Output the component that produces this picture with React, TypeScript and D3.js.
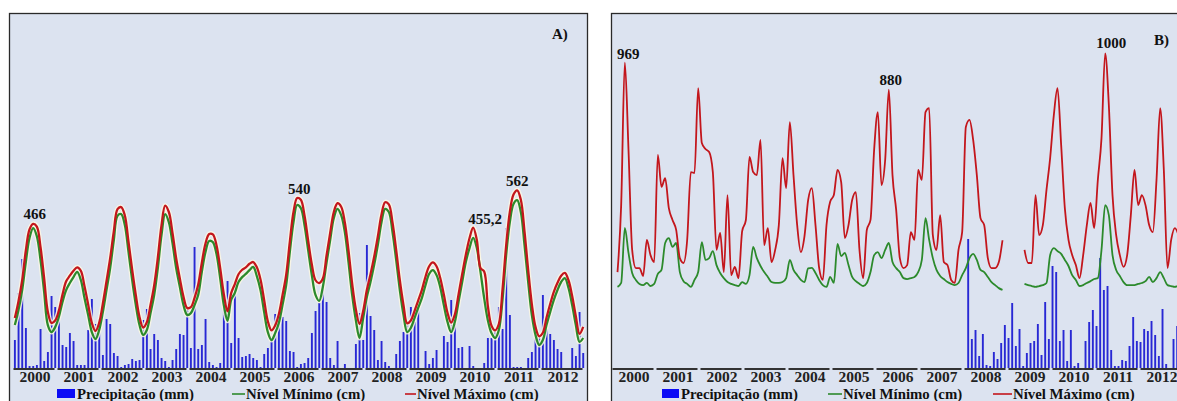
import React, { useEffect, useRef } from 'react';
import * as d3 from 'd3';

const anos = ['2000', '2001', '2002', '2003', '2004', '2005', '2006', '2007', '2008', '2009', '2010', '2011', '2012'];

// Painel A - valores mensais jan/2000 a dez/2012
const precipitacaoA = [
  112, 300, 436, 160, 8, 8, 12, 156, 28, 64, 288, 244,
  208, 92, 84, 140, 108, 12, 12, 12, 152, 276, 176, 196,
  52, 196, 176, 60, 48, 4, 12, 16, 36, 28, 32, 192,
  236, 76, 136, 112, 40, 28, 4, 32, 76, 136, 132, 244,
  80, 484, 76, 92, 196, 24, 12, 4, 20, 244, 348, 100,
  344, 120, 44, 48, 56, 40, 32, 4, 56, 80, 120, 216,
  208, 204, 188, 68, 64, 4, 16, 20, 40, 140, 228, 260,
  336, 264, 40, 12, 108, 0, 16, 0, 0, 96, 220, 112,
  492, 208, 152, 32, 108, 24, 8, 0, 56, 108, 144, 176,
  244, 184, 240, 0, 68, 16, 40, 72, 0, 128, 104, 272,
  176, 80, 84, 0, 88, 8, 0, 0, 20, 120, 120, 156,
  244, 156, 560, 212, 4, 4, 4, 0, 40, 64, 120, 132,
  292, 156, 136, 112, 76, 64, 0, 0, 80, 48, 224, 60,
];

const nivelMinimoA = [
  177, 220, 277, 357, 426, 454, 431, 363, 271, 177, 157, 171,
  200, 243, 277, 297, 314, 329, 306, 254, 206, 157, 137, 163,
  214, 277, 340, 420, 489, 494, 463, 386, 306, 234, 177, 149,
  163, 211, 263, 340, 434, 494, 471, 411, 340, 286, 234, 206,
  211, 234, 263, 329, 386, 417, 414, 380, 311, 234, 189, 249,
  269, 300, 314, 323, 334, 343, 317, 277, 214, 157, 134, 154,
  183, 234, 291, 386, 471, 520, 511, 463, 391, 320, 263, 246,
  286, 354, 420, 483, 509, 491, 443, 357, 263, 191, 140, 197,
  257, 300, 349, 406, 471, 509, 500, 443, 363, 277, 206, 157,
  169, 197, 226, 254, 291, 323, 334, 320, 286, 234, 186, 157,
  186, 243, 300, 357, 397, 426, 397, 329, 254, 191, 154, 140,
  163, 249, 377, 471, 523, 534, 500, 406, 300, 206, 149, 120,
  134, 177, 214, 249, 277, 300, 311, 283, 234, 177, 129, 140,
];

const nivelMaximoA = [
  197, 245, 305, 390, 450, 466, 458, 400, 310, 215, 183, 190,
  218, 264, 302, 318, 332, 342, 332, 288, 236, 183, 160, 183,
  238, 302, 368, 445, 508, 514, 490, 415, 335, 262, 200, 170,
  185, 234, 290, 370, 462, 518, 500, 440, 368, 310, 258, 226,
  228, 254, 292, 355, 410, 437, 436, 405, 340, 265, 216, 268,
  294, 322, 335, 342, 352, 357, 342, 307, 248, 188, 162, 176,
  208, 262, 320, 415, 500, 540, 535, 490, 418, 350, 305, 297,
  310, 375, 440, 500, 525, 515, 470, 390, 295, 222, 180, 217,
  277, 322, 372, 430, 493, 528, 522, 470, 392, 305, 234, 182,
  190, 217, 247, 277, 315, 345, 356, 345, 312, 264, 212, 184,
  207, 264, 322, 378, 425, 455.2, 420, 340, 330, 232, 175, 162,
  180, 278, 405, 500, 550, 562, 535, 445, 335, 237, 172, 145,
  155, 198, 237, 272, 298, 318, 326, 305, 260, 202, 152, 172,
];

// Painel B - chuva só a partir de jan/2008
const inicioPrecipitacaoB = 96;
const precipitacaoB = [
  516, 116, 152, 48, 136, 12, 8, 64, 36, 100, 172, 120,
  260, 88, 156, 8, 60, 100, 108, 176, 52, 264, 116, 408,
  384, 108, 152, 28, 152, 8, 20, 0, 108, 184, 232, 168,
  440, 312, 328, 72, 8, 8, 32, 28, 88, 204, 108, 104,
  156, 148, 188, 132, 48, 236, 16, 0, 116, 168, 120, 80,
];

const nivelMinimoB = [
  null, 229, 242, 424, 341, 275, 252, 239, 235, 242, 232, 239,
  272, 285, 374, 390, 361, 374, 278, 248, 239, 229, 252, 278,
  377, 318, 324, 347, 301, 275, 258, 245, 239, 235, 232, 245,
  239, 268, 361, 324, 298, 278, 262, 245, 242, 242, 245, 258,
  318, 285, 268, 252, 245, 290, 292, 275, 252, 235, 229, 262,
  242, 371, 331, 341, 301, 262, 248, 239, 232, 242, 278, 334,
  344, 324, 351, 374, 311, 291, 278, 258, 255, 258, 262, 278,
  318, 456, 384, 324, 285, 265, 255, 245, 239, 235, 242, 268,
  291, 324, 338, 318, 285, 278, 262, 245, 235, 225, 219, null,
  null, null, null, null, 239, 235, 232, 229, 232, 235, 242, 334,
  357, 347, 338, 318, 298, 268, 252, 232, 235, 242, 248, 255,
  258, 351, 499, 466, 334, 285, 265, 245, 235, 235, 235, 239,
  242, 248, 262, 245, 258, 278, 258, 235, 232, 229, 232, 232,
];

const nivelMaximoB = [
  null, 278, 499, 969, 681, 351, 291, 291, 265, 384, 334, 311,
  665, 559, 588, 489, 450, 417, 324, 308, 384, 608, 605, 885,
  704, 684, 674, 608, 351, 407, 278, 532, 268, 295, 258, 413,
  449, 658, 608, 598, 714, 367, 423, 311, 351, 433, 654, 555,
  773, 598, 433, 344, 397, 516, 555, 433, 291, 252, 433, 510,
  532, 615, 575, 390, 433, 516, 542, 350, 258, 417, 450, 683,
  806, 565, 648, 880, 598, 483, 324, 291, 301, 410, 384, 615,
  582, 806, 819, 400, 351, 466, 311, 301, 252, 242, 351, 410,
  757, 780, 714, 598, 456, 433, 324, 291, 291, 311, 383, null,
  null, null, null, null, 351, 308, 308, 532, 400, 433, 549, 655,
  796, 885, 697, 489, 384, 334, 301, 258, 334, 433, 506, 423,
  582, 720, 1000, 829, 532, 400, 334, 295, 334, 466, 615, 499,
  532, 499, 433, 410, 582, 819, 615, 291, 384, 423, 400, 351,
];

const picosA = [
  { rotulo: '466', mes: 5, valor: 466 },
  { rotulo: '540', mes: 77, valor: 540 },
  { rotulo: '455,2', mes: 125, valor: 455.2 },
  { rotulo: '562', mes: 137, valor: 562 },
];
const picosB = [
  { rotulo: '969', mes: 3, valor: 969 },
  { rotulo: '880', mes: 75, valor: 880 },
  { rotulo: '1000', mes: 134, valor: 1000 },
];

const legenda = ['Precipitação (mm)', 'Nível Mínimo (cm)', 'Nível Máximo (cm)'];

const FONTE = '"Liberation Serif", "Times New Roman", Times, serif';
const COR_FUNDO = '#dce3f0';
const COR_MIN = '#2c8a2c';
const COR_MAX = '#c3161c';
const COR_CHUVA = '#2828d4';

type Painel = {
  borda: number;
  x0: number;
  letra: string;
  letraPos: [number, number];
  topo: number;
  faixa: [number, number];
  chuva: number[];
  chuvaInicio: number;
  chuvaDesloc: number;
  minimo: (number | null)[];
  maximo: (number | null)[];
  picos: { rotulo: string; mes: number; valor: number }[];
  ajustePicos: [number, number][];
  curva: d3.CurveFactory;
  halo: boolean;
  leg: { ret: number; retW: number; t1: number; v: [number, number]; t2: number; r: [number, number]; t3: number };
};

function desenharPainel(svg: d3.Selection<SVGSVGElement, unknown, null, undefined>, p: Painel) {
  const g = svg.append('g');

  g.append('rect')
    .attr('x', p.borda + 0.5)
    .attr('y', 13.5)
    .attr('width', 578)
    .attr('height', 400)
    .attr('fill', COR_FUNDO)
    .attr('stroke', '#2a2a2a')
    .attr('stroke-width', 1.3);

  const x = d3.scaleLinear().domain([0, 156]).range([p.x0, p.x0 + 572]);
  const yNivel = d3.scaleLinear().domain([0, p.topo]).range(p.faixa);
  const yChuva = d3.scaleLinear().domain([0, 600]).range([368, 218]);

  // barras de precipitação
  g.selectAll('.chuva')
    .data(p.chuva.map((v, i) => ({ v, i: i + p.chuvaInicio })))
    .join('rect')
    .attr('class', 'chuva')
    .attr('x', (d) => x(d.i + 0.5) - 0.9 + p.chuvaDesloc)
    .attr('width', 1.9)
    .attr('y', (d) => yChuva(d.v))
    .attr('height', (d) => yChuva(0) - yChuva(d.v))
    .attr('fill', COR_CHUVA);

  // eixo dividido por ano
  anos.forEach((ano, k) => {
    g.append('line')
      .attr('x1', x(k * 12) + 0.5)
      .attr('x2', x(k * 12 + 12) - 2.5)
      .attr('y1', 369)
      .attr('y2', 369)
      .attr('stroke', '#333')
      .attr('stroke-width', 2);
    g.append('text')
      .attr('x', x(k * 12 + 6))
      .attr('y', 381.5)
      .attr('text-anchor', 'middle')
      .attr('font-family', FONTE)
      .attr('font-weight', 'bold')
      .attr('font-size', 15.5)
      .attr('fill', '#222')
      .text(ano);
  });

  const linha = d3
    .line<number | null>()
    .defined((d) => d != null)
    .x((d, i) => x(i + 0.5))
    .y((d) => yNivel(d as number))
    .curve(p.curva);

  const series: [(number | null)[], string][] = [
    [p.minimo, COR_MIN],
    [p.maximo, COR_MAX],
  ];
  // halos primeiro, depois as linhas, para nenhuma apagar a outra
  if (p.halo) {
    series.forEach(([dados]) => {
      g.append('path')
        .attr('d', linha(dados))
        .attr('fill', 'none')
        .attr('stroke', '#fbf7e4')
        .attr('stroke-width', 5)
        .attr('opacity', 0.85);
    });
  }
  series.forEach(([dados, cor]) => {
    g.append('path')
      .attr('d', linha(dados))
      .attr('fill', 'none')
      .attr('stroke', cor)
      .attr('stroke-width', p.halo ? 2.3 : 1.8)
      .attr('stroke-linejoin', 'round');
  });

  // rótulos dos picos
  p.picos.forEach((pk, j) => {
    g.append('text')
      .attr('x', x(pk.mes + 0.5) + p.ajustePicos[j][0])
      .attr('y', yNivel(pk.valor) + p.ajustePicos[j][1])
      .attr('text-anchor', 'middle')
      .attr('font-family', FONTE)
      .attr('font-weight', 'bold')
      .attr('font-size', 15)
      .attr('fill', '#111')
      .text(pk.rotulo);
  });

  g.append('text')
    .attr('x', p.letraPos[0])
    .attr('y', p.letraPos[1])
    .attr('font-family', FONTE)
    .attr('font-weight', 'bold')
    .attr('font-size', 15)
    .attr('fill', '#111')
    .text(p.letra);

  // legenda
  const L = p.leg;
  const fonteLeg = (s: d3.Selection<SVGTextElement, unknown, null, undefined>) =>
    s.attr('y', 398.5).attr('font-family', FONTE).attr('font-weight', 'bold').attr('font-size', 14.8).attr('fill', '#111');
  g.append('rect').attr('x', L.ret).attr('y', 389).attr('width', L.retW).attr('height', 9).attr('fill', '#0c0cf5');
  g.append('text').attr('x', L.t1).call(fonteLeg).text(legenda[0]);
  g.append('line').attr('x1', L.v[0]).attr('x2', L.v[1]).attr('y1', 394).attr('y2', 394).attr('stroke', COR_MIN).attr('stroke-width', 1.6);
  g.append('text').attr('x', L.t2).call(fonteLeg).text(legenda[1]);
  g.append('line').attr('x1', L.r[0]).attr('x2', L.r[1]).attr('y1', 394).attr('y2', 394).attr('stroke', COR_MAX).attr('stroke-width', 1.6);
  g.append('text').attr('x', L.t3).call(fonteLeg).text(legenda[2]);
}

const Graficos = () => {
  const ref = useRef<SVGSVGElement>(null);

  useEffect(() => {
    const svg = d3.select(ref.current as SVGSVGElement);
    svg.selectAll('*').remove();

    desenharPainel(svg, {
      borda: 9,
      x0: 13,
      letra: 'A)',
      letraPos: [552, 38.5],
      topo: 600,
      faixa: [387, 177],
      chuva: precipitacaoA,
      chuvaInicio: 0,
      chuvaDesloc: 0,
      minimo: nivelMinimoA,
      maximo: nivelMaximoA,
      picos: picosA,
      ajustePicos: [[1.5, -5], [2, -4], [12, -4], [0, -4]],
      curva: d3.curveCatmullRom.alpha(0.5),
      halo: true,
      leg: { ret: 57, retW: 18, t1: 77, v: [232, 245], t2: 246, r: [405, 416], t3: 417 },
    });

    desenharPainel(svg, {
      borda: 611,
      x0: 612,
      letra: 'B)',
      letraPos: [1154, 45],
      topo: 1000,
      faixa: [356.3, 53.3],
      chuva: precipitacaoB,
      chuvaInicio: inicioPrecipitacaoB,
      chuvaDesloc: 2.3,
      minimo: nivelMinimoB,
      maximo: nivelMaximoB,
      picos: picosB,
      ajustePicos: [[3.5, -4], [2, -5], [6, -5]],
      curva: d3.curveMonotoneX,
      halo: false,
      leg: { ret: 662, retW: 17, t1: 681, v: [828, 842], t2: 843, r: [993, 1012], t3: 1013 },
    });
  }, []);

  return <svg ref={ref} width={1177} height={401} style={{ display: 'block', background: '#fff' }} />;
};

export default function App() {
  return (
    <>
      <style>{'body{margin:0}'}</style>
      <Graficos />
    </>
  );
}
